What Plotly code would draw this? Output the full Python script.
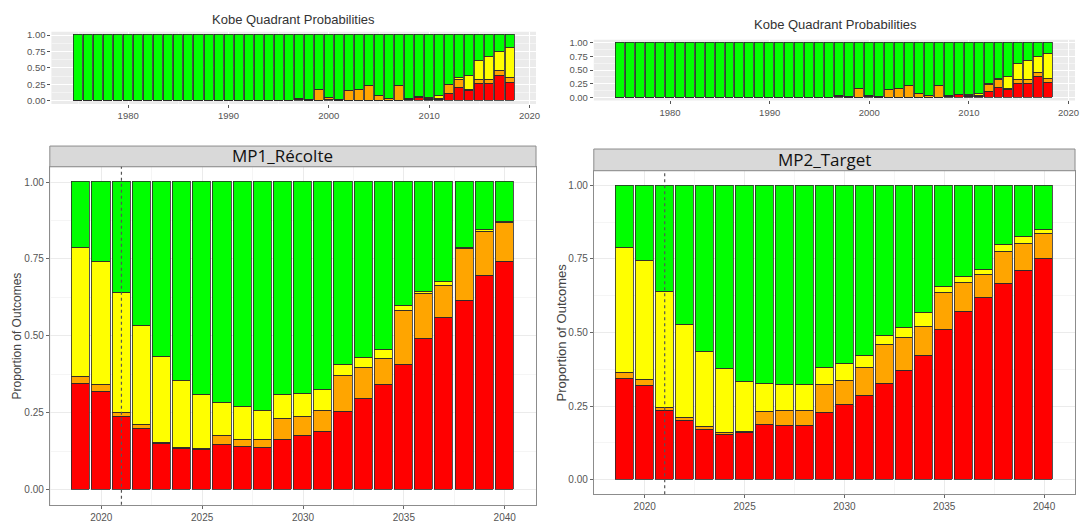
import plotly.graph_objects as go

W, H = 1087, 523

# ---------------- data ----------------
hist_years = list(range(1975, 2019))
hist_red = [0.0] * 22 + [0.01, 0.0, 0.0, 0.01, 0.0, 0.0, 0.0, 0.0, 0.0, 0.0, 0.0,
                         0.02, 0.05, 0.01, 0.02, 0.11, 0.19, 0.15, 0.26, 0.26, 0.385, 0.27]
hist_orange = [0.0] * 22 + [0.02, 0.015, 0.17, 0.03, 0.02, 0.145, 0.165, 0.225, 0.07, 0.03, 0.22,
                            0.01, 0.01, 0.02, 0.01, 0.13, 0.13, 0.02, 0.06, 0.06, 0.07, 0.08]
hist_yellow = [0.0] * 22 + [0.0, 0.0, 0.0, 0.0, 0.0, 0.0, 0.0, 0.0, 0.0, 0.0, 0.0,
                            0.0, 0.0, 0.02, 0.04, 0.005, 0.03, 0.21, 0.29, 0.35, 0.29, 0.455]
hist_green = [1.0] * 22 + [0.97, 0.985, 0.83, 0.96, 0.98, 0.855, 0.835, 0.775, 0.93, 0.97, 0.78,
                           0.97, 0.94, 0.95, 0.93, 0.755, 0.65, 0.62, 0.39, 0.33, 0.255, 0.195]

proj_years = list(range(2019, 2041))
mp1_red = [0.344, 0.318, 0.237, 0.197, 0.147, 0.131, 0.128, 0.145, 0.139, 0.134, 0.161,
           0.174, 0.188, 0.253, 0.294, 0.339, 0.406, 0.490, 0.558, 0.614, 0.694, 0.741]
mp1_orange = [0.022, 0.021, 0.011, 0.012, 0.005, 0.003, 0.004, 0.029, 0.024, 0.026, 0.068,
              0.061, 0.069, 0.116, 0.102, 0.085, 0.175, 0.148, 0.106, 0.170, 0.146, 0.128]
mp1_yellow = [0.421, 0.403, 0.393, 0.322, 0.280, 0.221, 0.175, 0.109, 0.107, 0.096, 0.078,
              0.076, 0.068, 0.038, 0.033, 0.032, 0.017, 0.006, 0.011, 0.003, 0.004, 0.003]
mp1_green = [0.213, 0.258, 0.359, 0.469, 0.568, 0.645, 0.693, 0.717, 0.730, 0.744, 0.693,
             0.689, 0.675, 0.593, 0.571, 0.544, 0.402, 0.356, 0.325, 0.213, 0.156, 0.128]

mp2_red = [0.344, 0.318, 0.235, 0.199, 0.170, 0.154, 0.159, 0.187, 0.184, 0.184, 0.229,
           0.255, 0.285, 0.326, 0.369, 0.422, 0.508, 0.572, 0.620, 0.667, 0.709, 0.752]
mp2_orange = [0.021, 0.021, 0.009, 0.010, 0.009, 0.006, 0.005, 0.044, 0.051, 0.051, 0.092,
              0.082, 0.095, 0.134, 0.114, 0.098, 0.126, 0.098, 0.076, 0.107, 0.093, 0.083]
mp2_yellow = [0.423, 0.404, 0.396, 0.319, 0.257, 0.218, 0.168, 0.096, 0.087, 0.089, 0.059,
              0.057, 0.041, 0.028, 0.033, 0.046, 0.022, 0.019, 0.019, 0.023, 0.025, 0.014]
mp2_green = [0.212, 0.257, 0.360, 0.472, 0.564, 0.622, 0.668, 0.673, 0.678, 0.676, 0.620,
             0.606, 0.579, 0.512, 0.484, 0.434, 0.344, 0.311, 0.285, 0.203, 0.173, 0.151]

panel_titles = ["MP1_Récolte", "MP2_Target"]
top_title = "Kobe Quadrant Probabilities"
y_title = "Proportion of Outcomes"
colors = ["#FF0000", "#FFA500", "#FFFF00", "#00FF00"]
current_year = 2021


def px(x):
    return x / W


def py(y):
    return 1 - y / H


fig = go.Figure()


def add_stack(years, series, xa, ya, lw):
    for vals, col in zip(series, colors):
        fig.add_trace(go.Bar(x=years, y=vals, width=0.9, marker_color=col,
                             marker_line=dict(color="#2a2a2a", width=lw),
                             xaxis=xa, yaxis=ya, showlegend=False))


hist = [hist_red, hist_orange, hist_yellow, hist_green]
add_stack(hist_years, hist, "x", "y", 0.8)
add_stack(hist_years, hist, "x2", "y2", 0.8)
add_stack(proj_years, [mp1_red, mp1_orange, mp1_yellow, mp1_green], "x3", "y3", 0.8)
add_stack(proj_years, [mp2_red, mp2_orange, mp2_yellow, mp2_green], "x4", "y4", 0.8)

tickfont_small = dict(family="Liberation Sans, Arial", size=9.5, color="#555555")
tickfont_med = dict(family="Liberation Sans, Arial", size=10, color="#555555")

top_x = dict(range=[1972.35, 2020.65], tickvals=[1980, 1990, 2000, 2010, 2020],
             ticks="outside", ticklen=3, tickcolor="#555", tickfont=tickfont_small,
             showgrid=True, gridcolor="#FFFFFF", gridwidth=1, zeroline=False,
             minor=dict(dtick=5, tick0=1975, showgrid=True, gridcolor="#F4F4F4"),
             fixedrange=True)
top_y = dict(range=[-0.05, 1.05], tickvals=[0, 0.25, 0.5, 0.75, 1.0],
             ticktext=["0.00", "0.25", "0.50", "0.75", "1.00"],
             ticks="outside", ticklen=3, tickcolor="#555", tickfont=tickfont_small,
             showgrid=True, gridcolor="#FFFFFF", gridwidth=1, zeroline=False,
             minor=dict(dtick=0.125, tick0=0, showgrid=True, gridcolor="#F4F4F4"),
             fixedrange=True)
bot_x = dict(range=[2017.45, 2041.55], tickvals=[2020, 2025, 2030, 2035, 2040],
             ticks="outside", ticklen=3, tickcolor="#666", tickfont=tickfont_med,
             showgrid=True, gridcolor="#EBEBEB", zeroline=False,
             minor=dict(dtick=2.5, tick0=2017.5, showgrid=True, gridcolor="#F5F5F5"),
             showline=True, linecolor="#8c8c8c", linewidth=1, mirror=True)
bot_y = dict(range=[-0.05, 1.05], tickvals=[0, 0.25, 0.5, 0.75, 1.0],
             ticktext=["0.00", "0.25", "0.50", "0.75", "1.00"],
             ticks="outside", ticklen=3, tickcolor="#666", tickfont=tickfont_med,
             showgrid=True, gridcolor="#EBEBEB", zeroline=False,
             minor=dict(dtick=0.125, tick0=0, showgrid=True, gridcolor="#F5F5F5"),
             showline=True, linecolor="#8c8c8c", linewidth=1, mirror=True)

# panel pixel boxes (left, right, top, bottom)
tl = (51.6, 538, 29.2, 102.3)
tr = (596, 1079, 37.2, 98.8)
bl = (50, 538, 166, 508.6)
br = (596, 1079, 170, 498)

fig.update_layout(
    width=W, height=H, margin=dict(l=0, r=0, t=0, b=0),
    paper_bgcolor="white", plot_bgcolor="white", barmode="stack", bargap=0,
    showlegend=False,
    xaxis=dict(domain=[px(tl[0]), px(tl[1])], anchor="y", **top_x),
    yaxis=dict(domain=[py(tl[3]), py(tl[2])], anchor="x", **top_y),
    xaxis2=dict(domain=[px(tr[0]), px(tr[1])], anchor="y2", **top_x),
    yaxis2=dict(domain=[py(tr[3]), py(tr[2])], anchor="x2", **top_y),
    xaxis3=dict(domain=[px(bl[0]), px(bl[1])], anchor="y3", **bot_x),
    yaxis3=dict(domain=[py(bl[3]), py(bl[2])], anchor="x3", **bot_y),
    xaxis4=dict(domain=[px(br[0]), px(br[1])], anchor="y4", **bot_x),
    yaxis4=dict(domain=[py(br[3]), py(br[2])], anchor="x4", **bot_y),
)

shapes = []
# gray panel backgrounds for top charts
for box in (tl, tr):
    shapes.append(dict(type="rect", xref="paper", yref="paper", layer="below",
                       x0=px(box[0]), x1=px(box[1]), y0=py(box[3]), y1=py(box[2]),
                       fillcolor="#EBEBEB", line=dict(width=0)))
# strips
strips = [(50, 538, 145, 166), (596, 1079, 148, 170)]
for s in strips:
    shapes.append(dict(type="rect", xref="paper", yref="paper",
                       x0=px(s[0]), x1=px(s[1]), y0=py(s[3]), y1=py(s[2]),
                       fillcolor="#D9D9D9", line=dict(color="#8c8c8c", width=1)))
# dashed current-year lines
for xr, yr in (("x3", "y3 domain"), ("x4", "y4 domain")):
    shapes.append(dict(type="line", xref=xr, yref=yr, x0=current_year, x1=current_year,
                       y0=0, y1=1, line=dict(color="#555555", width=1.2, dash="3px,3px"),
                       layer="above"))
fig.update_layout(shapes=shapes)


def label(text, x, y, size, family="Liberation Sans, Arial", color="#333", angle=0):
    return dict(text=text, x=px(x), y=py(y), xref="paper", yref="paper",
                xanchor="center", yanchor="middle", textangle=angle,
                showarrow=False, font=dict(family=family, size=size, color=color))


ann = [
    label(top_title, 295, 17, 13),
    label(top_title, 839, 21.5, 13),
    label(panel_titles[0], 284, 155, 17, family="Open Sans", color="#111"),
    label(panel_titles[1], 828, 159, 17, family="Open Sans", color="#111"),
    label(y_title, 18, 337, 12, color="#444", angle=-90),
    label(y_title, 564, 334, 13, color="#444", angle=-90),
]
fig.update_layout(annotations=ann)

fig.write_html("out.html")
